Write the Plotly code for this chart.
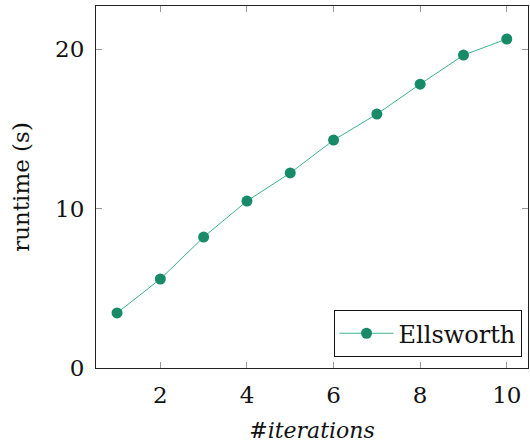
import plotly.graph_objects as go

# runtime measurements per iteration count
iterations = [1, 2, 3, 4, 5, 6, 7, 8, 9, 10]
runtime_s = [3.45, 5.58, 8.21, 10.47, 12.23, 14.29, 15.92, 17.8, 19.62, 20.63]
series_name = "Ellsworth"
x_ticks = [2, 4, 6, 8, 10]
y_ticks = [0, 10, 20]

font_family = "DejaVu Serif"
text_color = "#111111"

fig = go.Figure()
fig.add_trace(go.Scatter(
    x=iterations,
    y=runtime_s,
    mode="lines+markers",
    name=series_name,
    line=dict(color="#3cb58c", width=1),
    marker=dict(color="#178a68", size=11),
))

axis_common = dict(
    showgrid=False,
    zeroline=False,
    showline=True,
    linecolor="#222222",
    linewidth=1.2,
    mirror="ticks",
    ticks="inside",
    ticklen=6,
    tickwidth=1,
    tickcolor="#999999",
    tickfont=dict(family=font_family, size=23, color=text_color),
)

fig.update_xaxes(
    range=[0.514, 10.49],
    tickvals=x_ticks,
    title=dict(text="<i>#iterations</i>",
               font=dict(family=font_family, size=22, color=text_color),
               standoff=15),
    ticklabelstandoff=6,
    **axis_common,
)
fig.update_yaxes(
    range=[0, 22.7],
    tickvals=y_ticks,
    title=dict(text="runtime (s)",
               font=dict(family=font_family, size=23, color=text_color),
               standoff=18),
    ticklabelstandoff=6,
    **axis_common,
)

fig.update_layout(
    width=530,
    height=445,
    margin=dict(l=96, r=2, t=6, b=77),
    font=dict(family=font_family, size=22, color=text_color),
    paper_bgcolor="white",
    plot_bgcolor="white",
    showlegend=True,
    legend=dict(
        x=0.985, y=0.03, xanchor="right", yanchor="bottom",
        bgcolor="white",
        bordercolor=text_color,
        borderwidth=1,
        font=dict(family=font_family, size=24, color=text_color),
        itemwidth=54,
    ),
)

fig.write_html("out.html")
